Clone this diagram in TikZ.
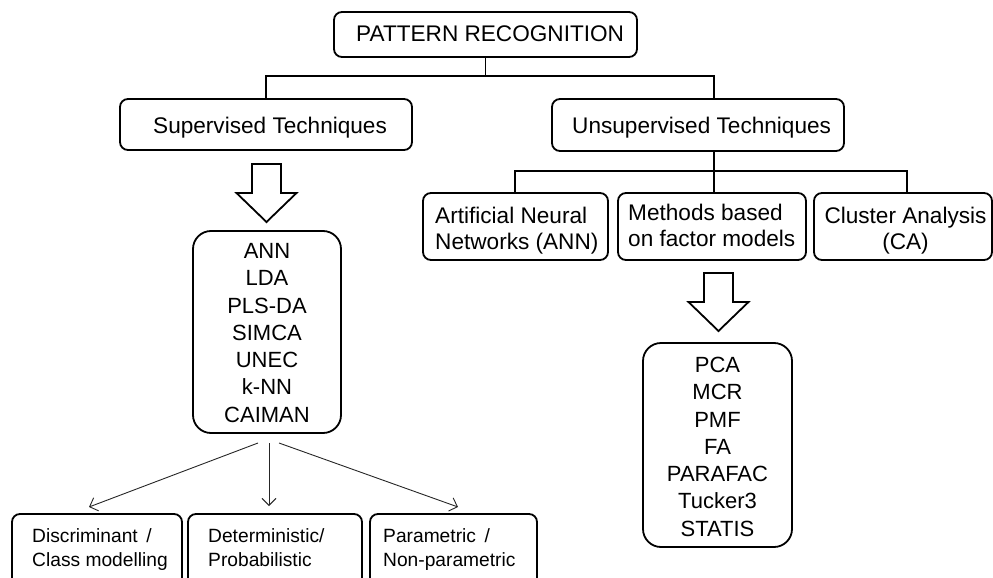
\documentclass[tikz,border=0pt]{standalone}
\usepackage{fontspec}
\setmainfont{Liberation Sans}
\usetikzlibrary{arrows.meta}

\tikzset{
  box/.style={draw, line width=1.8pt, rounded corners=8pt, inner sep=0pt},
  listbox/.style={box, rounded corners=18pt},
  conn/.style={line width=1.8pt},
  thinarrow/.style={line width=0.9pt, draw=black!85, -{Straight Barb[length=7pt,width=14pt,line width=0.9pt]}},
  lbl/.style={inner sep=0pt, font=\fontsize{22.6}{26}\selectfont},
  listlbl/.style={inner sep=0pt, anchor=base, align=center, font=\fontsize{22}{27.25}\selectfont},
  smalllbl/.style={inner sep=0pt, anchor=base west, align=left, font=\fontsize{19.2}{24}\selectfont},
  downarrow/.pic={
    \draw[line width=1.8pt, line join=miter]
      (-14.5,0) -- (14.5,0) -- (14.5,29) -- (30,29) -- (0,58)
      -- (-30,29) -- (-14.5,29) -- cycle;
  }
}

\begin{document}
\begin{tikzpicture}[x=1pt, y=-1pt]
  \useasboundingbox (0,0) rectangle (993,578);
  \clip (0,0) rectangle (993,578);

  % --- boxes ---
  \node[box, minimum width=303pt, minimum height=45pt] (pr) at (485.5,34.5) {};
  \node[box, minimum width=292pt, minimum height=51pt] (sup) at (266,124.5) {};
  \node[box, minimum width=292pt, minimum height=52pt] (unsup) at (698,125) {};
  \node[box, minimum width=185pt, minimum height=67pt] (ann) at (515.5,226.5) {};
  \node[box, minimum width=188pt, minimum height=67pt] (meth) at (712,226.5) {};
  \node[box, minimum width=178pt, minimum height=67pt] (clu) at (903,226.5) {};
  \node[listbox, minimum width=148pt, minimum height=202pt] (llist) at (267,332) {};
  \node[listbox, minimum width=149pt, minimum height=204pt] (rlist) at (717.5,445) {};
  \node[box, minimum width=170pt, minimum height=81pt] (disc) at (97,554.5) {};
  \node[box, minimum width=174pt, minimum height=81pt] (det) at (275,554.5) {};
  \node[box, minimum width=167pt, minimum height=81pt] (par) at (453.5,554.5) {};

  % --- labels (multi-line ones are placed by the baseline of their last line) ---
  \node[lbl, anchor=base west] (prT) at (356,42) {PATTERN RECOGNITION};
  \node[lbl, anchor=base west] (supT) at (153,133) {Supervised Techniques};
  \node[lbl, anchor=base west] (unsupT) at (572,133) {Unsupervised Techniques};
  \node[lbl, anchor=base west, align=left] (annT) at (435,249) {Artificial Neural\\Networks (ANN)};
  \node[lbl, anchor=base west, align=left] (methT) at (628,246) {Methods based\\on factor models};
  \node[lbl, anchor=base, align=center] (cluT) at (905.5,249) {Cluster Analysis\\(CA)};
  \node[listlbl] (llistT) at (267,422) {ANN\\LDA\\PLS-DA\\SIMCA\\UNEC\\k-NN\\CAIMAN};
  \node[listlbl] (rlistT) at (717.5,536) {PCA\\MCR\\PMF\\FA\\PARAFAC\\Tucker3\\STATIS};
  \node[smalllbl] (discT) at (32,566) {Discriminant \,/\\Class modelling};
  \node[smalllbl] (detT) at (208,566) {Deterministic/\\Probabilistic};
  \node[smalllbl] (parT) at (383,566) {Parametric \,/\\Non-parametric};

  % --- tree connectors ---
  \coordinate (h1) at (266,76);
  \coordinate (h2) at (714,76);
  \draw[conn] (pr.south) -- (pr.south |- h1);
  \draw[conn] (sup.north -| h1) |- (h2) -- (unsup.north -| h2);

  \coordinate (h3) at (515,171);
  \coordinate (h4) at (907,171);
  \coordinate (v2) at (714,171);
  \draw[conn] (unsup.south -| v2) -- (meth.north -| v2);
  \draw[conn] (ann.north -| h3) |- (h4) -- (clu.north -| h4);

  % --- hollow block arrows ---
  \pic at (266.5,164) {downarrow};
  \pic at (718.5,273) {downarrow};

  % --- thin arrows to the three property boxes ---
  \coordinate (s1) at (258,443);
  \coordinate (s2) at (269,443);
  \coordinate (s3) at (279,443);
  \coordinate (t1) at (89,507);
  \coordinate (t2) at (269,506);
  \coordinate (t3) at (458,507);
  \draw[thinarrow] (s1) -- (t1);
  \draw[thinarrow] (s2) -- (t2);
  \draw[thinarrow] (s3) -- (t3);
\end{tikzpicture}
\end{document}
